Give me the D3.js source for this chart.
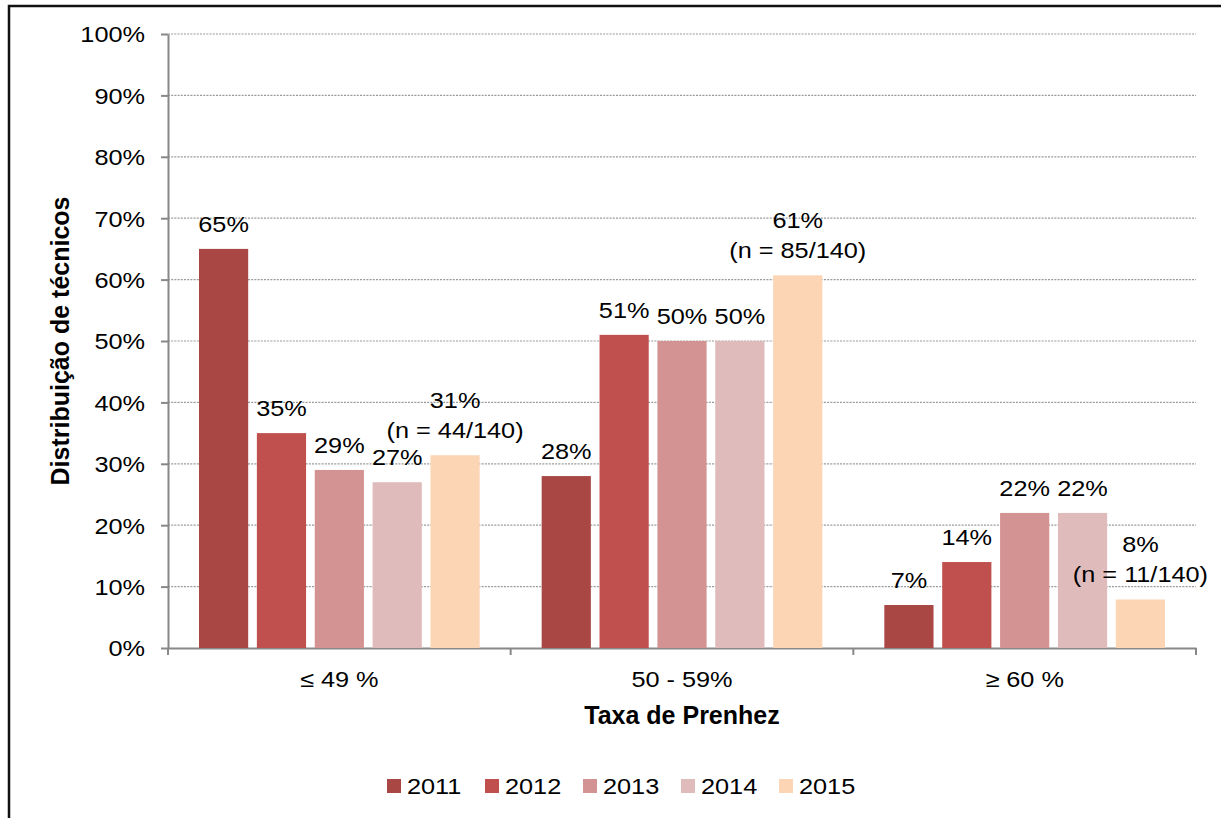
<!DOCTYPE html>
<html>
<head>
<meta charset="utf-8">
<script src="https://cdn.jsdelivr.net/npm/d3@7"></script>
<style>
  body { margin: 0; background: #fff; }
  svg { font-family: "Liberation Sans", Arial, sans-serif; }
</style>
</head>
<body>
<div id="vis"></div>
<script>
// Data
const CATEGORIES = ["≤ 49 %", "50 - 59%", "≥ 60 %"];
const YEARS = ["2011", "2012", "2013", "2014", "2015"];
const V2011 = [65, 28, 7];
const V2012 = [35, 51, 14];
const V2013 = [29, 50, 22];
const V2014 = [27, 50, 22];
const V2015 = [31.4, 60.7, 7.9];
const N_2015 = ["(n = 44/140)", "(n = 85/140)", "(n = 11/140)"];
const Y_TICKS = [0, 10, 20, 30, 40, 50, 60, 70, 80, 90, 100];
const COLORS = ["#A84744", "#C0504D", "#D39392", "#E0BBBB", "#FCD5B5"];

const SERIES = [V2011, V2012, V2013, V2014, V2015];

// Frame
const FRAME_WIDTH = 1221;
const FRAME_HEIGHT = 818;
const PLOT = {left: 168, right: 1196, top: 34, bottom: 648};
const FONT = 22;       // regular text size
const SX = 1.15;       // the picture's text is a bit wider than tall

const FRAME = d3.select("#vis")
                .append("svg")
                  .attr("width", FRAME_WIDTH)
                  .attr("height", FRAME_HEIGHT);

// helper: put a (horizontally stretched) text at x,y
function addText(parent, x, y, str, anchor) {
  return parent.append("text")
               .attr("transform", "translate(" + x + "," + y + ") scale(" + SX + ",1)")
               .attr("text-anchor", anchor || "middle")
               .attr("font-size", FONT + "px")
               .text(str);
}

// outer border (runs off the right and bottom edges)
FRAME.append("rect")
     .attr("x", 9).attr("y", 6)
     .attr("width", 1300).attr("height", 900)
     .attr("fill", "none")
     .attr("stroke", "#111")
     .attr("stroke-width", 2.5);

// Scales
const X_SCALE = d3.scaleBand()
                  .domain(CATEGORIES)
                  .range([PLOT.left, PLOT.right]);

const X_SUB = d3.scaleBand()
                .domain(YEARS)
                .range([31, X_SCALE.bandwidth() - 31])
                .paddingInner(0.15);

const Y_SCALE = d3.scaleLinear()
                  .domain([0, 100])
                  .range([PLOT.bottom, PLOT.top]);

// gridlines
FRAME.append("g")
     .selectAll("line")
     .data(Y_TICKS.filter(d => d > 0))
     .enter()
     .append("line")
       .attr("x1", PLOT.left)
       .attr("x2", PLOT.right)
       .attr("y1", d => Y_SCALE(d))
       .attr("y2", d => Y_SCALE(d))
       .attr("stroke", "#9a9a9a")
       .attr("stroke-width", 1.2)
       .attr("stroke-dasharray", "2,1.2");

// y axis
const yAxis = FRAME.append("g")
     .attr("transform", "translate(" + PLOT.left + ",0)")
     .call(d3.axisLeft(Y_SCALE).tickValues(Y_TICKS).tickFormat(d => d + "%").tickSize(7).tickSizeOuter(0));
yAxis.select(".domain").attr("stroke", "#888").attr("stroke-width", 2);
yAxis.selectAll(".tick line").attr("stroke", "#888").attr("stroke-width", 2);
yAxis.selectAll("text")
     .attr("font-size", FONT + "px").attr("fill", "#000")
     .attr("font-family", "Liberation Sans, Arial, sans-serif")
     .attr("x", -23 / SX)
     .attr("dy", "0.36em")
     .attr("transform", "scale(" + SX + ",1)");

// x axis
const xAxis = FRAME.append("g")
     .attr("transform", "translate(0," + PLOT.bottom + ")")
     .call(d3.axisBottom(X_SCALE).tickSize(0).tickPadding(23));
xAxis.select(".domain").attr("stroke", "#888").attr("stroke-width", 2);
xAxis.selectAll("text")
     .attr("font-size", FONT + "px").attr("fill", "#000")
     .attr("font-family", "Liberation Sans, Arial, sans-serif")
     .attr("transform", "scale(" + SX + ",1)");

// category separator ticks
FRAME.append("g")
     .selectAll("line")
     .data(CATEGORIES.map(c => X_SCALE(c)).concat([PLOT.right]))
     .enter()
     .append("line")
       .attr("x1", d => d).attr("x2", d => d)
       .attr("y1", PLOT.bottom).attr("y2", PLOT.bottom + 7)
       .attr("stroke", "#888")
       .attr("stroke-width", 2);

// bars + labels
SERIES.forEach((vals, si) => {
  const g = FRAME.append("g");
  g.selectAll("rect")
   .data(vals)
   .enter()
   .append("rect")
     .attr("x", (d, i) => X_SCALE(CATEGORIES[i]) + X_SUB(YEARS[si]))
     .attr("y", d => Y_SCALE(d))
     .attr("width", X_SUB.bandwidth())
     .attr("height", d => PLOT.bottom - Y_SCALE(d))
     .attr("fill", COLORS[si]);

  vals.forEach((d, i) => {
    const cx = X_SCALE(CATEGORIES[i]) + X_SUB(YEARS[si]) + X_SUB.bandwidth() / 2;
    const top = Y_SCALE(d);
    if (si === 4) {
      addText(g, cx, top - 47, Math.round(d) + "%");
      addText(g, cx, top - 17, N_2015[i]);
    } else {
      addText(g, cx, top - 17, Math.round(d) + "%");
    }
  });
});

// axis titles
FRAME.append("text")
     .attr("transform", "translate(69," + ((PLOT.top + PLOT.bottom) / 2) + ") rotate(-90)")
     .attr("text-anchor", "middle")
     .attr("font-size", "25px")
     .attr("font-weight", "bold")
     .text("Distribuição de técnicos");

FRAME.append("text")
     .attr("x", (PLOT.left + PLOT.right) / 2)
     .attr("y", 724)
     .attr("text-anchor", "middle")
     .attr("font-size", "25px")
     .attr("font-weight", "bold")
     .text("Taxa de Prenhez");

// legend
const LEGEND = FRAME.append("g")
     .attr("transform", "translate(387,779)");
const items = LEGEND.selectAll("g")
     .data(YEARS)
     .enter()
     .append("g")
       .attr("transform", (d, i) => "translate(" + (i * 98) + ",0)");
items.append("rect")
     .attr("width", 14).attr("height", 14)
     .attr("fill", (d, i) => COLORS[i]);
items.each(function (d) {
  addText(d3.select(this), 20, 15, d, "start");
});
</script>
</body>
</html>
